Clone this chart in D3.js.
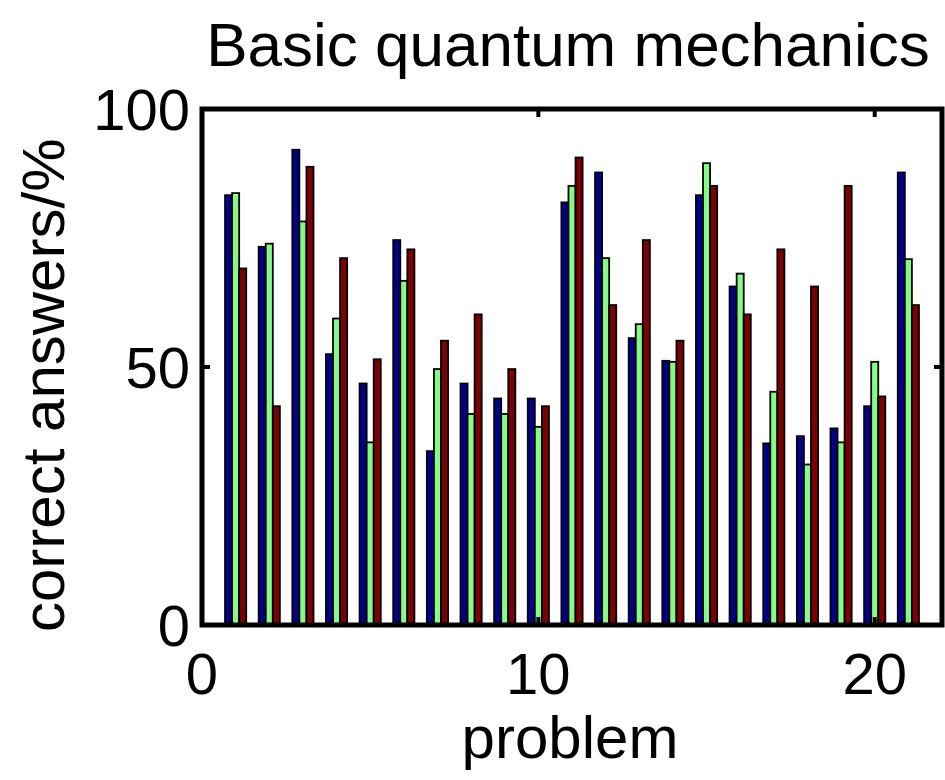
<!DOCTYPE html>
<html>
<head>
<meta charset="utf-8">
<script src="https://cdn.jsdelivr.net/npm/d3@7"></script>
<style>
  body { margin: 0; background: #fff; }
  text { font-family: "Liberation Sans", Arial, sans-serif; fill: #000; }
</style>
</head>
<body>
<svg id="chart" width="945" height="780"></svg>
<script>
const problems = d3.range(1, 22);
const seriesColors = ["#000090", "#80ff80", "#800000"];
const blueValues = [83.3, 73.3, 92.1, 52.5, 46.8, 74.6, 33.7, 46.8, 43.9, 43.9, 81.9,
  87.7, 55.6, 51.2, 83.3, 65.6, 35.2, 36.6, 38.1, 42.4, 87.7];
const greenValues = [83.7, 73.9, 78.2, 59.4, 35.4, 66.7, 49.6, 40.9, 40.9, 38.4, 85.1,
  71.1, 58.3, 51.0, 89.5, 68.1, 45.2, 31.1, 35.4, 51.0, 70.9];
const redValues = [69.1, 42.4, 88.8, 71.1, 51.5, 72.8, 55.1, 60.2, 49.6, 42.4, 90.6,
  62.0, 74.6, 55.1, 85.1, 60.2, 72.8, 65.6, 85.1, 44.3, 62.0];
const xTicks = [0, 10, 20];
const yTicks = [0, 50, 100];

const series = [blueValues, greenValues, redValues];

const svg = d3.select("#chart");
const plotLeft = 202, plotRight = 942, plotTop = 109, plotBottom = 625;

const x = d3.scaleLinear().domain([0, 22]).range([plotLeft, plotRight]);
const y = d3.scaleLinear().domain([0, 100]).range([plotBottom, plotTop]);

const barW = 0.21; // in x units
const offsets = [-barW, 0, barW];

const bars = svg.append("g");
series.forEach((vals, s) => {
  bars.selectAll(null)
    .data(vals.map((v, i) => ({ p: problems[i], v })))
    .join("rect")
    .attr("x", (d) => x(d.p + offsets[s] - barW / 2))
    .attr("width", x(barW) - x(0))
    .attr("y", (d) => y(d.v))
    .attr("height", (d) => y(0) - y(d.v))
    .attr("fill", seriesColors[s])
    .attr("stroke", "#000")
    .attr("stroke-width", 1.8);
});

// frame
svg.append("rect")
  .attr("x", plotLeft).attr("y", plotTop)
  .attr("width", plotRight - plotLeft).attr("height", plotBottom - plotTop)
  .attr("fill", "none").attr("stroke", "#000").attr("stroke-width", 5);

// inward ticks on all four sides
const tk = 8;
const tickG = svg.append("g").attr("stroke", "#000").attr("stroke-width", 4);
xTicks.forEach((t) => {
  tickG.append("line").attr("x1", x(t)).attr("x2", x(t)).attr("y1", plotBottom).attr("y2", plotBottom - tk);
  tickG.append("line").attr("x1", x(t)).attr("x2", x(t)).attr("y1", plotTop).attr("y2", plotTop + tk);
});
yTicks.forEach((t) => {
  tickG.append("line").attr("x1", plotLeft).attr("x2", plotLeft + tk).attr("y1", y(t)).attr("y2", y(t));
  tickG.append("line").attr("x1", plotRight).attr("x2", plotRight - tk).attr("y1", y(t)).attr("y2", y(t));
});

const fs = 58;
svg.append("g").selectAll("text")
  .data(xTicks).join("text")
  .attr("x", (d) => x(d)).attr("y", 694)
  .attr("text-anchor", "middle").attr("font-size", fs)
  .text((d) => d);

svg.append("g").selectAll("text")
  .data(yTicks).join("text")
  .attr("x", 190).attr("y", (d) => y(d) + 21)
  .attr("text-anchor", "end").attr("font-size", fs)
  .text((d) => d);

svg.append("text")
  .attr("x", 568).attr("y", 66)
  .attr("text-anchor", "middle").attr("font-size", 62)
  .text("Basic quantum mechanics");

svg.append("text")
  .attr("x", 570).attr("y", 758)
  .attr("text-anchor", "middle").attr("font-size", 60)
  .text("problem");

svg.append("text")
  .attr("transform", "translate(64,632) rotate(-90)")
  .attr("text-anchor", "start").attr("font-size", 60)
  .text("correct answers/%");
</script>
</body>
</html>
